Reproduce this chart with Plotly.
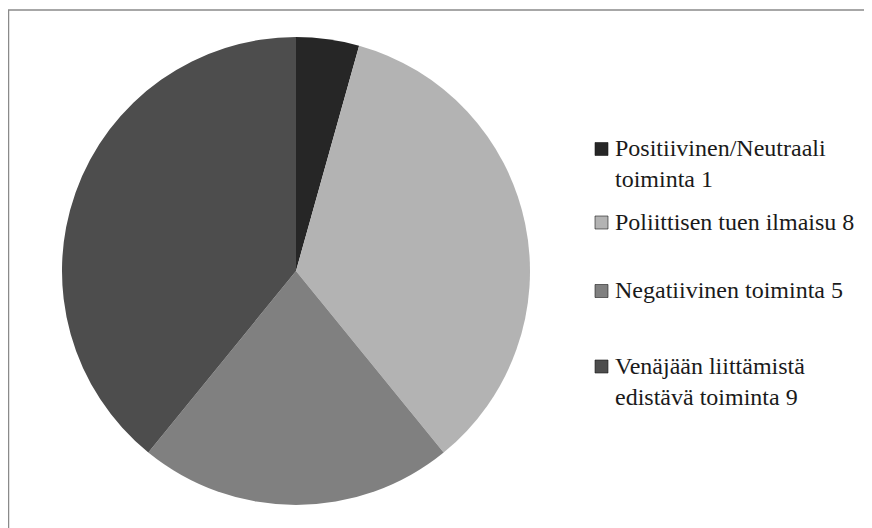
import plotly.graph_objects as go

categories = ["Positiivinen/Neutraali toiminta", "Poliittisen tuen ilmaisu",
              "Negatiivinen toiminta", "Venäjään liittämistä edistävä toiminta"]
values = [1, 8, 5, 9]
colors = ["#262626", "#b3b3b3", "#808080", "#4d4d4d"]
# legend wrapping: number of words on the first line (None = single line)
wrap_after = [1, None, None, 2]

labels = []
for cat, val, w in zip(categories, values, wrap_after):
    words = f"{cat} {val}".split(" ")
    if w is None:
        labels.append(" ".join(words))
    else:
        labels.append(" ".join(words[:w]) + "<br>" + " ".join(words[w:]))

W, H = 872, 528
FONT = "Liberation Serif"
fig = go.Figure(go.Pie(
    labels=[f"{c} {v}" for c, v in zip(categories, values)], values=values,
    sort=False, direction="clockwise", rotation=0,
    marker=dict(colors=colors, line=dict(width=0)),
    textinfo="none", hoverinfo="label+value", showlegend=False,
    domain=dict(x=[54 / W, 522 / W], y=[1 - 497 / H, 1 - 29 / H]),
))

# legend layout (pixels from top-left of the figure)
LEG_SYM_X0, LEG_SYM_SIZE, LEG_TXT_X = 587, 13, 605
LEG_Y = [141, 214.5, 283, 358.5]     # centre of each entry's first line

anns, shapes = [], []
for lab, col, yc in zip(labels, colors, LEG_Y):
    shapes.append(dict(type="rect", xref="paper", yref="paper",
                       x0=LEG_SYM_X0 / W, x1=(LEG_SYM_X0 + LEG_SYM_SIZE) / W,
                       y0=1 - (yc + LEG_SYM_SIZE / 2) / H, y1=1 - (yc - LEG_SYM_SIZE / 2) / H,
                       fillcolor=col, line=dict(color="#1a1a1a", width=0.6)))
    anns.append(dict(text=lab, x=LEG_TXT_X / W, y=1 - (yc - 16) / H, xref="paper", yref="paper",
                     xanchor="left", yanchor="top", align="left", showarrow=False,
                     font=dict(family=FONT, size=24, color="#1a1a1a")))

shapes.append(dict(type="rect", xref="paper", yref="paper",
                   x0=0.5 / W, x1=1.05, y0=-0.05, y1=1 - 2 / H,
                   line=dict(color="#8a8a8a", width=1.5), layer="above"))

fig.update_layout(
    width=W, height=H, margin=dict(l=0, r=0, t=0, b=0),
    paper_bgcolor="white", plot_bgcolor="white",
    font=dict(family=FONT, size=18, color="#1a1a1a"),
    annotations=anns,
    shapes=shapes,
)
fig.write_html("out.html")
